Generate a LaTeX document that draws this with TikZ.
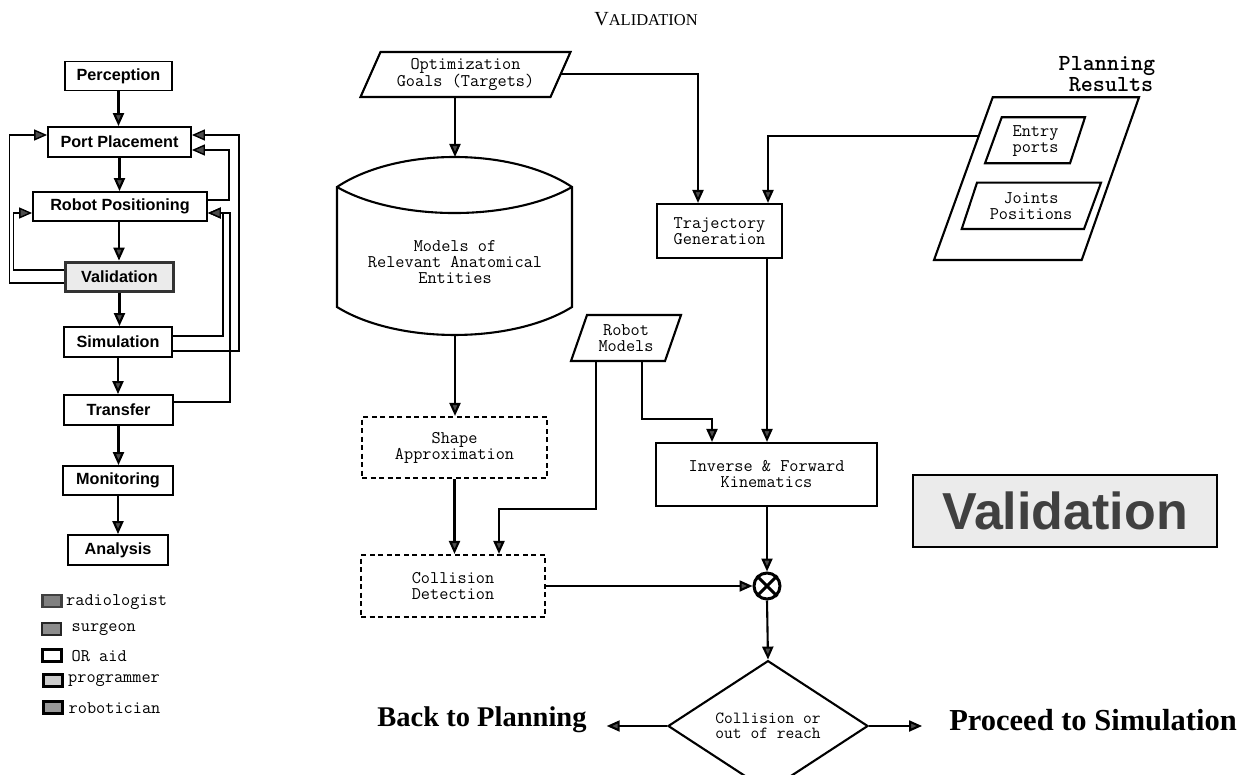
\documentclass[tikz,border=0pt]{standalone}
\usepackage{fontspec}
\setmainfont{Liberation Serif}
\setsansfont{Liberation Sans}
\usetikzlibrary{arrows.meta,shapes.geometric,calc}
\newcommand\monofnt{\ttfamily\fontsize{17.8}{16}\selectfont}
\newcommand\lblfnt{\sffamily\bfseries\fontsize{16.2}{17}\selectfont}
\tikzset{
  >={Triangle[length=13pt,width=11pt,fill=black!70]},
  conn/.style={draw, line width=2.1pt, ->},
  fb/.style={draw, line width=1.4pt, ->},
  lbox/.style={draw, line width=1.8pt, font=\lblfnt, inner sep=0pt, fill=white},
  mbox/.style={draw, line width=2.1pt, font=\monofnt, align=center, inner sep=0pt},
  dbox/.style={mbox, dash pattern=on 5pt off 3.5pt},
  mtext/.style={font=\monofnt, align=center, inner sep=0pt},
  shp/.style={draw, line width=2.1pt, line join=miter},
  leg/.style={draw, line width=2.2pt, minimum width=19pt, minimum height=12pt, inner sep=0pt},
  legt/.style={anchor=west, font=\ttfamily\fontsize{17.8}{16}\selectfont, inner sep=0pt}
}
\begin{document}
\begin{tikzpicture}[x=1pt, y=-1pt]
\useasboundingbox (0,0) rectangle (1249,775);

% ---------------- left flowchart ----------------
\node[lbox, minimum width=107pt, minimum height=29pt] (perc) at (118.5,76) {Perception};
\node[lbox, minimum width=143pt, minimum height=30pt] (pp) at (119.5,142) {Port Placement};
\node[lbox, minimum width=174pt, minimum height=29pt] (rp) at (120,206.5) {Robot Positioning};
\node[lbox, line width=3.8pt, draw=black!80, fill=black!8, minimum width=108pt, minimum height=29pt] (val) at (119.5,277) {Validation};
\node[lbox, minimum width=108pt, minimum height=30pt] (sim) at (118,342) {Simulation};
\node[lbox, minimum width=109pt, minimum height=30pt] (tr) at (118.5,410) {Transfer};
\node[lbox, minimum width=110pt, minimum height=29pt] (mon) at (118,480.5) {Monitoring};
\node[lbox, minimum width=100pt, minimum height=30pt] (ana) at (118,550) {Analysis};

\draw[conn] (perc.south) -- (perc.south |- pp.north);
\draw[conn] (pp.south) -- (pp.south |- rp.north);
\draw[conn] ([xshift=-1pt]rp.south) -- ([xshift=-1pt]rp.south |- val.north);
\draw[conn] (val.south) -- (val.south |- sim.north);
\draw[conn] (sim.south) -- (sim.south |- tr.north);
\draw[conn] (tr.south) -- (tr.south |- mon.north);
\draw[conn] (mon.south) -- (mon.south |- ana.north);

% feedback loops
\draw[fb] ([yshift=7pt]val.west) -- ++(-50,0) |- ([yshift=-6.5pt]rp.west);
\draw[fb] ([yshift=-6pt]val.west) -- ++(-54,0) |- ([yshift=7pt]pp.west);
\draw[fb] ([yshift=6.5pt]rp.east) -- ++(21,0) |- ([yshift=-8pt]pp.east);
\draw[fb] ([yshift=6pt]sim.east) -- ++(50,0) |- ([yshift=-6.5pt]rp.east);
\draw[fb] ([yshift=-9pt]sim.east) -- ++(66,0) |- ([yshift=7pt]pp.east);
\draw[fb] ([yshift=8pt]tr.east) -- ++(56,0) |- ([yshift=-6.5pt]rp.east);

% legend
\node[leg, draw=black!75, fill=black!50] (l1) at (52,601) {};
\node[legt] (t1) at (66,602) {radiologist};
\node[leg, draw=black!85, fill=black!45] (l2) at (51.5,629) {};
\node[legt] (t2) at (71.5,630) {surgeon};
\node[leg, draw=black, fill=white, line width=3pt] (l3) at (51.5,655) {};
\node[legt] (t3) at (71.5,656) {OR aid};
\node[leg, draw=black, fill=black!20, line width=3pt] (l4) at (52.5,680.5) {};
\node[legt] (t4) at (68,681) {programmer};
\node[leg, draw=black, fill=black!40, line width=3pt] (l5) at (53,707) {};
\node[legt] (t5) at (68.5,708) {robotician};

% ---------------- title ----------------
\node[inner sep=0pt] (title) at (646,19) {\fontsize{20}{20}\selectfont V\fontsize{16.5}{16.5}\selectfont ALIDATION};

% ---------------- main diagram ----------------
% Optimization goals (parallelogram)
\draw[shp] (380.5,52) -- (570.5,52) -- (550.5,97) -- (360.5,97) -- cycle;
\node[mtext] (opt) at (465.5,74.5) {Optimization\\Goals (Targets)};
\coordinate (optS) at (455,97);
\coordinate (optE) at (560.5,74);

% Models cylinder
\draw[shp] (337,187) .. controls (397,147) and (512,147) .. (572,187)
  -- (572,307) .. controls (512,344.3) and (397,344.3) .. (337,307) -- cycle;
\draw[shp] (337,187) .. controls (397,221.7) and (512,221.7) .. (572,187);
\node[mtext] (cyl) at (455,262) {Models of\\Relevant Anatomical\\Entities};
\coordinate (cylN) at (455,157);
\coordinate (cylS) at (455,335);

% Robot models
\draw[shp] (587,315) -- (681,315) -- (665,361) -- (571,361) -- cycle;
\node[mtext] (rm) at (626,338) {Robot\\Models};
\coordinate (rmA) at (596,361);
\coordinate (rmB) at (642,361);

% Planning results
\node[font=\ttfamily\bfseries\fontsize{23}{21.5}\selectfont, align=center, inner sep=0pt] (prt) at (1107,74) {Planning\\\hspace*{0.35em}Results};
\draw[shp] (992.7,97.3) -- (1139,97.3) -- (1081.7,260) -- (934,260) -- cycle;
\draw[shp] (1001.7,117.3) -- (1085,117.3) -- (1070,163.3) -- (985,163.3) -- cycle;
\node[mtext] (ep) at (1035.5,141) {Entry\\ports};
\draw[shp] (977,182.7) -- (1101,182.7) -- (1084,229) -- (961.7,229) -- cycle;
\node[mtext] (jp) at (1031,206) {Joints\\Positions};
\coordinate (prW) at (978.8,136);

% boxes
\node[mbox, minimum width=125pt, minimum height=54pt] (tg) at (719.5,231) {Trajectory\\Generation};
\node[mbox, minimum width=221pt, minimum height=63pt] (ifk) at (766.5,474.5) {Inverse \& Forward\\Kinematics};
\node[dbox, minimum width=185pt, minimum height=61pt] (sa) at (454.5,447.5) {Shape\\Approximation};
\node[dbox, minimum width=184pt, minimum height=62pt] (cd) at (453,586) {Collision\\Detection};
\node[draw, circle, line width=3pt, minimum size=26pt, inner sep=0pt] (ox) at (767,586) {};
\draw[line width=3pt] (ox.45) -- (ox.225) (ox.135) -- (ox.315);
\node[draw, diamond, line width=2.1pt, minimum width=200pt, minimum height=95pt, inner sep=0pt,
      font=\ttfamily\fontsize{17}{15}\selectfont, align=center] (dia) at (768,726) {Collision or\\out of reach};

% Validation label box
\node[draw, line width=2pt, fill=black!8, minimum width=304pt, minimum height=72pt, inner sep=0pt,
      font=\sffamily\bfseries\fontsize{52}{52}\selectfont, text=black!75] (vbig) at (1065,511) {Validation};

% outcome texts
\node[inner sep=0pt, font=\bfseries\fontsize{28.5}{30}\selectfont] (back) at (482,720) {Back to Planning};
\node[inner sep=0pt, font=\bfseries\fontsize{30.5}{32}\selectfont] (proc) at (1093,720) {Proceed to Simulation};

% connectors
\draw[conn] (optS) -- (cylN);
\draw[conn] (optE) -| ([xshift=-21.5pt]tg.north);
\draw[conn] (prW) -| ([xshift=48.5pt]tg.north);
\draw[conn] (cylS) -- (cylS |- sa.north);
\draw[conn] (sa.south) -- (sa.south |- cd.north);
\draw[conn] (rmA) -- ++(0,148) -| ([xshift=46pt]cd.north);
\draw[conn] (rmB) -- ++(0,58) -| ([xshift=-54.5pt]ifk.north);
\draw[conn] ([xshift=47.5pt]tg.south) -- ([xshift=0.5pt]ifk.north);
\draw[conn] ([xshift=0.5pt]ifk.south) -- (ox.north);
\draw[conn] (cd.east) -- (ox.west);
\draw[conn] (ox.south) -- (dia.north);
\draw[conn] (dia.west) -- ([xshift=20pt]back.east |- dia.west);
\draw[conn] (dia.east) -- ([xshift=-27pt]proc.west |- dia.east);
\end{tikzpicture}
\end{document}
